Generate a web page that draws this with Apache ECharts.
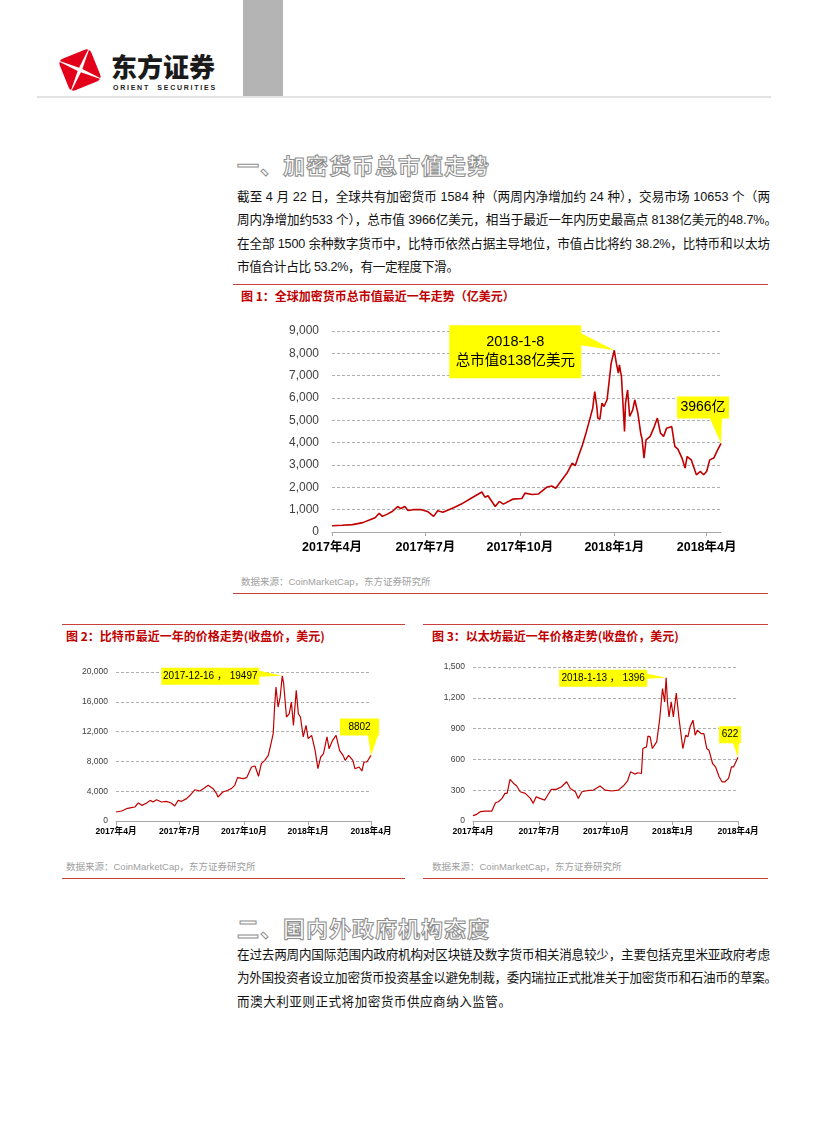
<!DOCTYPE html>
<html><head><meta charset="utf-8">
<script src="https://cdn.jsdelivr.net/npm/echarts@6/dist/echarts.min.js"></script>
<style>
html,body{margin:0;padding:0;background:#fff;}
#page{position:relative;width:827px;height:1122px;overflow:hidden;font-family:"Noto Sans CJK SC",sans-serif;background:#fff;}
.rule{position:absolute;height:1px;background:#c9413d;}
.h1{position:absolute;left:237px;font-size:22px;font-weight:bold;color:#fff;-webkit-text-stroke:1px #8e8e8e;letter-spacing:1px;line-height:28px;white-space:nowrap;}
.para{position:absolute;left:237px;width:540px;font-size:12.6px;color:#111;font-family:"Liberation Sans","Noto Sans CJK SC",sans-serif;}
.para div{height:23.3px;line-height:23.3px;white-space:nowrap;}
.cap{position:absolute;font-size:12px;font-weight:bold;color:#c00000;line-height:14px;white-space:nowrap;}
.src{position:absolute;font-size:9.5px;color:#a0a0a0;line-height:12px;white-space:nowrap;font-family:"Liberation Sans","Noto Sans CJK SC",sans-serif;}
#chart{position:absolute;left:0;top:0;width:827px;height:1122px;}
</style>
</head><body>
<div id="page">
  <div style="position:absolute;left:243px;top:0;width:40px;height:97px;background:#b4b4b4;"></div>
  <div style="position:absolute;left:37px;top:96px;width:734px;height:2px;background:#e2e2e2;"></div>
  <svg style="position:absolute;left:53px;top:45px;" width="54" height="50" viewBox="0 0 54 50">
    <g transform="translate(27,25) rotate(-22)">
      <rect x="-17" y="-17" width="34" height="34" rx="5" ry="5" fill="#e2001a"/>
      <polygon points="-20,-20 -2.5,0 -20,20 0,2.5 20,20 2.5,0 20,-20 0,-2.5" fill="#fff"/>
    </g>
  </svg>
  <div style="position:absolute;left:111px;top:49px;font-size:26px;font-weight:900;color:#1a1a1a;letter-spacing:0px;line-height:34px;white-space:nowrap;">东方证券</div>
  <div style="position:absolute;left:113px;top:83px;font-size:7px;font-weight:bold;color:#222;letter-spacing:1.75px;line-height:9px;white-space:nowrap;font-family:'Liberation Sans',sans-serif;">ORIENT&nbsp; SECURITIES</div>

  <div class="h1" style="top:150px;">一、加密货币总市值走势</div>
  <div class="para" style="top:186px;">
    <div class="j" data-w="533">截至 4 月 22 日，全球共有加密货币 1584 种（两周内净增加约 24 种），交易市场 10653 个（两</div>
    <div class="j" data-w="540">周内净增加约533 个），总市值 3966亿美元，相当于最近一年内历史最高点 8138亿美元的48.7%。</div>
    <div class="j" data-w="533">在全部 1500 余种数字货币中，比特币依然占据主导地位，市值占比将约 38.2%，比特币和以太坊</div>
    <div class="j" data-w="222">市值合计占比 53.2%，有一定程度下滑。</div>
  </div>
  <div class="rule" style="left:233px;top:284px;width:535px;"></div>
  <div class="cap" style="left:241px;top:289px;">图 1：全球加密货币总市值最近一年走势（亿美元）</div>
  <div class="src" style="left:241px;top:576px;">数据来源：CoinMarketCap，东方证券研究所</div>
  <div class="rule" style="left:233px;top:593px;width:535px;"></div>

  <div class="rule" style="left:62px;top:624px;width:343px;"></div>
  <div class="cap" style="left:66px;top:629px;">图 2：比特币最近一年的价格走势(收盘价，美元)</div>
  <div class="src" style="left:66px;top:861px;">数据来源：CoinMarketCap，东方证券研究所</div>
  <div class="rule" style="left:62px;top:878px;width:343px;"></div>

  <div class="rule" style="left:423px;top:624px;width:345px;"></div>
  <div class="cap" style="left:432px;top:629px;">图 3：以太坊最近一年价格走势(收盘价，美元)</div>
  <div class="src" style="left:432px;top:861px;">数据来源：CoinMarketCap，东方证券研究所</div>
  <div class="rule" style="left:423px;top:878px;width:345px;"></div>

  <div class="h1" style="top:913px;">二、国内外政府机构态度</div>
  <div class="para" style="top:944px;">
    <div class="j" data-w="533">在过去两周内国际范围内政府机构对区块链及数字货币相关消息较少，主要包括克里米亚政府考虑</div>
    <div class="j" data-w="540">为外国投资者设立加密货币投资基金以避免制裁，委内瑞拉正式批准关于加密货币和石油币的草案。</div>
    <div class="j" data-w="274">而澳大利亚则正式将加密货币供应商纳入监管。</div>
  </div>

  <div id="chart"></div>
</div>
<script>
// fit each text line to its width in the reference
document.querySelectorAll('.para .j').forEach(el=>{
  const target = +el.dataset.w;
  el.style.display='inline-block';
  const w = el.getBoundingClientRect().width;
  const n = el.textContent.length;
  el.style.letterSpacing = ((target - w) / Math.max(1,n-1)) + 'px';
  el.style.display='block';
});

// ---- Chart 1: total crypto market cap (亿美元)
const mcapDates = ["2017-04-08","2017-04-18","2017-04-28","2017-05-08","2017-05-15","2017-05-20","2017-05-24","2017-05-27","2017-06-01","2017-06-06","2017-06-11","2017-06-14","2017-06-18","2017-06-21","2017-06-26","2017-07-04","2017-07-10","2017-07-16","2017-07-20","2017-07-25","2017-08-05","2017-08-12","2017-08-22","2017-09-01","2017-09-04","2017-09-07","2017-09-14","2017-09-18","2017-09-22","2017-10-01","2017-10-10","2017-10-13","2017-10-20","2017-10-26","2017-11-03","2017-11-08","2017-11-12","2017-11-17","2017-11-23","2017-11-28","2017-12-01","2017-12-04","2017-12-08","2017-12-11","2017-12-15","2017-12-18","2017-12-20","2017-12-22","2017-12-23","2017-12-25","2017-12-27","2017-12-29","2018-01-01","2018-01-03","2018-01-05","2018-01-08","2018-01-10","2018-01-12","2018-01-13","2018-01-15","2018-01-18","2018-01-19","2018-01-21","2018-01-23","2018-01-26","2018-01-28","2018-01-31","2018-02-03","2018-02-04","2018-02-06","2018-02-08","2018-02-12","2018-02-16","2018-02-19","2018-02-22","2018-02-25","2018-02-28","2018-03-05","2018-03-08","2018-03-11","2018-03-15","2018-03-18","2018-03-20","2018-03-24","2018-03-29","2018-04-02","2018-04-05","2018-04-08","2018-04-11","2018-04-15","2018-04-18","2018-04-22"];
const mcapValues = [280,300,330,420,550,640,840,700,800,930,1140,1050,1140,960,1000,1000,920,700,950,880,1100,1250,1520,1790,1560,1620,1140,1370,1250,1470,1500,1740,1680,1700,2000,2060,1960,2270,2640,3080,2970,3380,3900,4350,5020,5540,6290,5620,5100,5050,5770,5620,5920,6740,7560,8138,7560,7110,7480,6960,4500,5770,6360,5170,5470,5920,5320,4350,4200,3310,4130,4280,4720,5100,4430,4280,4650,4720,3830,3710,3310,2860,3380,3230,2560,2710,2560,2710,3230,3310,3610,3966];
const mcapTickDates = ["2017-04-08","2017-07-08","2017-10-08","2018-01-08","2018-04-08"];
// ---- Chart 2: Bitcoin close (USD)
const btcDates = ["2017-04-22","2017-04-30","2017-05-07","2017-05-14","2017-05-19","2017-05-24","2017-05-29","2017-06-05","2017-06-10","2017-06-14","2017-06-19","2017-06-26","2017-07-03","2017-07-10","2017-07-15","2017-07-20","2017-07-25","2017-08-01","2017-08-06","2017-08-13","2017-08-20","2017-08-25","2017-09-01","2017-09-08","2017-09-13","2017-09-15","2017-09-22","2017-09-29","2017-10-04","2017-10-09","2017-10-13","2017-10-21","2017-10-26","2017-11-02","2017-11-07","2017-11-12","2017-11-16","2017-11-21","2017-11-26","2017-11-29","2017-12-03","2017-12-05","2017-12-07","2017-12-10","2017-12-13","2017-12-16","2017-12-18","2017-12-22","2017-12-26","2017-12-29","2018-01-01","2018-01-05","2018-01-08","2018-01-11","2018-01-15","2018-01-19","2018-01-22","2018-01-27","2018-02-01","2018-02-05","2018-02-09","2018-02-13","2018-02-18","2018-02-21","2018-02-26","2018-03-03","2018-03-08","2018-03-13","2018-03-16","2018-03-21","2018-03-27","2018-03-30","2018-04-05","2018-04-09","2018-04-12","2018-04-16","2018-04-22"];
const btcValues = [1210,1340,1655,1790,1880,2420,2100,2420,2770,2550,2860,2550,2640,2420,2010,2770,2640,3000,3450,4200,4030,4340,4790,4340,3670,3220,3890,4120,4340,4790,5820,5680,5820,7250,7380,6000,7700,8140,8810,10020,11720,15300,17990,15300,16640,19497,18430,13960,14400,15970,12840,17540,14400,13960,11280,12840,11050,11500,9490,7020,8590,9040,11280,9710,10830,11500,9490,8810,8140,8810,8140,7020,7250,6710,7920,7920,8802];
const btcTickDates = ["2017-04-22","2017-07-22","2017-10-22","2018-01-22","2018-04-22"];
// ---- Chart 3: Ethereum close (USD)
const ethDates = ["2017-04-22","2017-04-27","2017-05-02","2017-05-09","2017-05-18","2017-05-23","2017-05-27","2017-06-01","2017-06-05","2017-06-08","2017-06-12","2017-06-17","2017-06-21","2017-06-26","2017-07-03","2017-07-10","2017-07-14","2017-07-18","2017-07-23","2017-07-30","2017-08-03","2017-08-08","2017-08-15","2017-08-22","2017-08-29","2017-09-03","2017-09-10","2017-09-14","2017-09-19","2017-09-26","2017-10-05","2017-10-14","2017-10-21","2017-10-30","2017-11-08","2017-11-15","2017-11-21","2017-11-25","2017-12-01","2017-12-05","2017-12-10","2017-12-12","2017-12-17","2017-12-19","2017-12-22","2017-12-25","2017-12-28","2017-12-31","2018-01-04","2018-01-08","2018-01-11","2018-01-13","2018-01-15","2018-01-17","2018-01-20","2018-01-23","2018-01-27","2018-01-31","2018-02-05","2018-02-09","2018-02-12","2018-02-15","2018-02-19","2018-02-22","2018-02-25","2018-03-02","2018-03-06","2018-03-10","2018-03-13","2018-03-18","2018-03-22","2018-03-27","2018-03-31","2018-04-04","2018-04-09","2018-04-13","2018-04-16","2018-04-22"];
const ethValues = [52,65,91,97,97,178,188,220,269,269,405,366,343,285,269,220,172,236,220,204,253,308,308,334,382,317,285,220,285,295,301,340,301,292,301,340,392,479,457,470,463,706,722,826,820,706,739,771,982,1289,1160,1396,1144,1014,1160,1014,1247,982,706,836,820,917,982,836,885,852,852,706,690,560,528,431,382,382,415,528,528,622];
const ethTickDates = ["2017-04-22","2017-07-22","2017-10-22","2018-01-22","2018-04-22"];

function ts(s){const p=s.split('-').map(Number);return new Date(p[0],p[1]-1,p[2]).getTime();}
function zip(d,v){return d.map((x,i)=>[ts(x),v[i]]);}
function tickLabel(t){const d=new Date(t);return d.getFullYear()+'年'+(d.getMonth()+1)+'月';}

const NUMFONT = 'Liberation Sans, Noto Sans CJK SC, sans-serif';
const LINE = '#c00000';
const grids = [
  {left:332, top:331, width:389, height:201},
  {left:116, top:672, width:255, height:149},
  {left:473, top:667, width:265, height:154}
];
const sets = [
  {data:zip(mcapDates,mcapValues), ticks:mcapTickDates.map(ts), min:ts(mcapDates[0]), max:ts(mcapDates[mcapDates.length-1]), ymax:9000, yint:1000, yfs:12, xfs:12.5, ym:13, xm:9, lw:1.6},
  {data:zip(btcDates,btcValues), ticks:btcTickDates.map(ts), min:ts(btcDates[0]), max:ts(btcDates[btcDates.length-1]), ymax:20000, yint:4000, yfs:8.5, xfs:8.6, ym:8, xm:6, lw:1.2},
  {data:zip(ethDates,ethValues), ticks:ethTickDates.map(ts), min:ts(ethDates[0]), max:ts(ethDates[ethDates.length-1]), ymax:1500, yint:300, yfs:8.5, xfs:8.6, ym:8, xm:6, lw:1.2}
];

const chart = echarts.init(document.getElementById('chart'), null, {renderer:'canvas'});
chart.setOption({
  animation:false,
  grid: grids.map(g=>Object.assign({containLabel:false},g)),
  xAxis: sets.map((s,i)=>({
    type:'value', gridIndex:i, min:s.min, max:s.max, scale:true,
    axisLine:{show:true, onZero:false, lineStyle:{color:'#a6a6a6', width:1}},
    axisTick:{show:true, customValues:s.ticks, length:4, lineStyle:{color:'#a6a6a6'}},
    axisLabel:{customValues:s.ticks, formatter:tickLabel, fontSize:s.xfs, color:'#000', fontWeight:'bold', margin:s.xm, fontFamily:NUMFONT, hideOverlap:false, showMinLabel:true, showMaxLabel:true},
    splitLine:{show:false}
  })),
  yAxis: sets.map((s,i)=>({
    type:'value', gridIndex:i, min:0, max:s.ymax, interval:s.yint,
    axisLine:{show:false}, axisTick:{show:false},
    axisLabel:{fontSize:s.yfs, color:'#404040', margin:s.ym, fontFamily:NUMFONT, formatter:v=>v.toLocaleString('en-US')},
    splitLine:{show:true, lineStyle:{type:[3,2], color:'#b0b0b0', width:1}}
  })),
  series: sets.map((s,i)=>({
    type:'line', xAxisIndex:i, yAxisIndex:i, data:s.data, showSymbol:false, symbol:'none',
    lineStyle:{color:LINE, width:s.lw}, z:3
  }))
});

// callouts anchored to data points
const callouts = [
  {g:0, d:"2018-01-08", v:8138, box:[-165,-25,-33,28], tail:['right',-17,-5], lines:['2018-1-8','总市值8138亿美元'], fs:14.5, lh:19},
  {g:0, d:"2018-04-22", v:3966, box:[-44,-47,8,-25], tail:['bottom',-11,1], lines:['3966亿'], fs:14, lh:16},
  {g:1, d:"2017-12-16", v:19497, box:[-121,-8,-23,9], tail:['right',-5,1], lines:['2017-12-16 ， 19497'], fs:10, lh:12},
  {g:1, d:"2018-04-22", v:8802, box:[-31,-37,8,-20], tail:['bottom',-3,7], lines:['8802'], fs:10, lh:12},
  {g:2, d:"2018-01-13", v:1396, box:[-107,-8,-19,9], tail:['right',-4,1], lines:['2018-1-13 ， 1396'], fs:10, lh:12},
  {g:2, d:"2018-04-22", v:622, box:[-19,-31,3,-14], tail:['bottom',-5,1], lines:['622'], fs:10, lh:12}
];
const graphics = [];
callouts.forEach(c=>{
  const p = chart.convertToPixel({gridIndex:c.g}, [ts(c.d), c.v]);
  const [L,T,R,B] = c.box;
  let pts;
  if (c.tail[0]==='right') pts=[[L,T],[R,T],[R,c.tail[1]],[0,0],[R,c.tail[2]],[R,B],[L,B]];
  else pts=[[L,T],[R,T],[R,B],[c.tail[2],B],[0,0],[c.tail[1],B],[L,B]];
  graphics.push({type:'polygon', z:10, shape:{points:pts.map(q=>[p[0]+q[0],p[1]+q[1]])}, style:{fill:'#ffff00', stroke:null}});
  graphics.push({type:'text', z:11, x:p[0]+(L+R)/2, y:p[1]+(T+B)/2,
    style:{text:c.lines.join('\n'), fill:'#000', fontSize:c.fs, fontFamily:NUMFONT, lineHeight:c.lh, textAlign:'center', textVerticalAlign:'middle'}});
});
chart.setOption({graphic:graphics});
</script>
</body></html>
